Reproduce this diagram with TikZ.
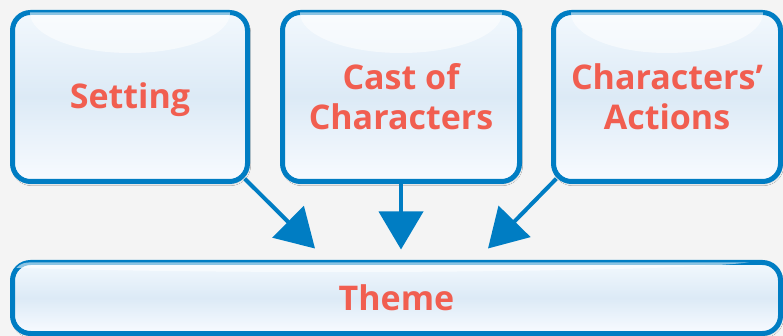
\documentclass[tikz,border=0pt]{standalone}
\usepackage{fontspec}
\setmainfont{Open Sans}
\usetikzlibrary{arrows.meta,shadows.blur,calc}
\definecolor{bg}{HTML}{F4F4F4}
\definecolor{edge}{HTML}{007DC3}
\definecolor{label}{HTML}{F15E50}
\definecolor{fillTop}{HTML}{F2F8FD}
\definecolor{fillMid}{HTML}{DCEAF6}
\definecolor{fillBot}{HTML}{F8FBFF}
\tikzset{
  box/.style={draw=edge, line width=5pt, rounded corners=18pt,
    top color=fillTop, bottom color=fillBot, middle color=fillMid,
    blur shadow={shadow xshift=1pt, shadow yshift=-2pt, shadow blur steps=6, shadow opacity=22},
    text=label, font=\fontsize{34}{40}\selectfont\bfseries, align=center,
    inner sep=0pt},
  oneline/.style={text depth=0pt, text height=24pt},
  gloss/.style={fill=white, opacity=0.55},
  arr/.style={draw=edge, line width=4pt,
    -{Triangle[length=38pt,width=44pt]}}
}
\begin{document}
\begin{tikzpicture}[x=1pt,y=-1pt]
  \useasboundingbox[fill=bg] (0,0) rectangle (783,336);

  % top row of boxes
  \node[box, oneline, minimum width=235pt, minimum height=169pt] (setting) at (130,97) {Setting};
  \node[box, minimum width=237pt, minimum height=169pt] (cast) at (401,97) {Cast of\\Characters};
  \node[box, minimum width=227pt, minimum height=169pt] (actions) at (667,97) {Characters’\\Actions};
  % bottom box
  \node[box, oneline, minimum width=768pt, minimum height=71pt] (theme) at (396.5,298) {Theme};

  % glossy highlights near the top edges
  \foreach \n/\rx in {setting/100, cast/101, actions/96} {
    \begin{scope}
      \clip[rounded corners=16pt] ($(\n.north west)+(2.5,2.5)$) rectangle ($(\n.south east)+(-2.5,-2.5)$);
      \fill[gloss] ($(\n.north)+(0,3)$) ellipse [x radius=\rx, y radius=40];
    \end{scope}
  }
  \begin{scope}
    \clip[rounded corners=16pt] ($(theme.north west)+(2.5,2.5)$) rectangle ($(theme.south east)+(-2.5,-2.5)$);
    \fill[gloss] ($(theme.north)+(-60,0)$) ellipse [x radius=420, y radius=12];
  \end{scope}

  % connectors into the theme box
  \draw[arr] ([shift={(-5.3,-5.3)}]setting.south east) -- ([shift={(-81.5,-11.5)}]theme.north);
  \draw[arr] (cast.south) -- ([shift={(4.5,-10.5)}]theme.north);
  \draw[arr] ([shift={(5.3,-5.3)}]actions.south west) -- ([shift={(91.5,-11.5)}]theme.north);
\end{tikzpicture}
\end{document}
